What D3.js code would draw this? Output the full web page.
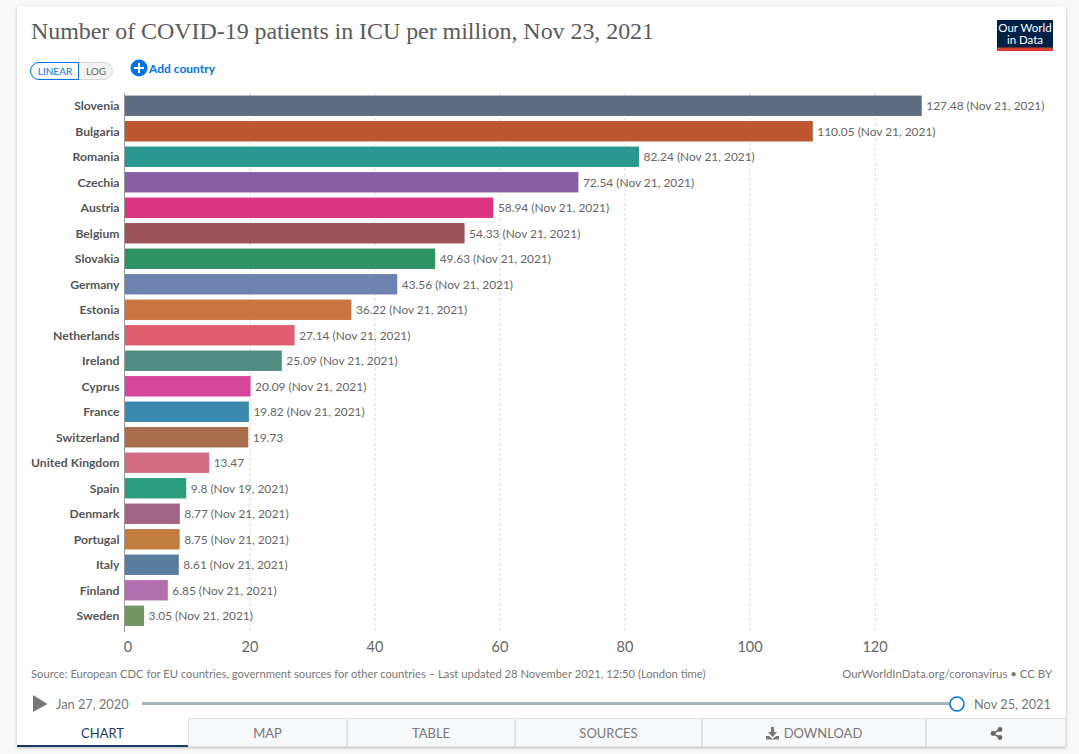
<!DOCTYPE html>
<html><head><meta charset="utf-8">
<script src="https://cdn.jsdelivr.net/npm/d3@7"></script>
<style>
html,body{margin:0;padding:0;background:#f8f8f8;overflow:hidden}
svg{display:block}
text{font-family:Lato,sans-serif}
</style></head><body>
<svg id="c" width="1079" height="754"></svg>
<script>
const countries=["Slovenia","Bulgaria","Romania","Czechia","Austria","Belgium","Slovakia","Germany","Estonia","Netherlands","Ireland","Cyprus","France","Switzerland","United Kingdom","Spain","Denmark","Portugal","Italy","Finland","Sweden"];
const values=[127.48,110.05,82.24,72.54,58.94,54.33,49.63,43.56,36.22,27.14,25.09,20.09,19.82,19.73,13.47,9.8,8.77,8.75,8.61,6.85,3.05];
const dates=["Nov 21, 2021","Nov 21, 2021","Nov 21, 2021","Nov 21, 2021","Nov 21, 2021","Nov 21, 2021","Nov 21, 2021","Nov 21, 2021","Nov 21, 2021","Nov 21, 2021","Nov 21, 2021","Nov 21, 2021","Nov 21, 2021","","","Nov 19, 2021","Nov 21, 2021","Nov 21, 2021","Nov 21, 2021","Nov 21, 2021","Nov 21, 2021"];
const colors=["#5b697f","#bd532d","#26968f","#855ca0","#d9307f","#9a5055","#2a9160","#6b80ad","#c9723a","#e05b6e","#4b8a7e","#d6409a","#3688ae","#a66a49","#cf6a7f","#289c7b","#a0617f","#c17a38","#557a9c","#b06bab","#6f9560"];
const ticks=[0,20,40,60,80,100,120];
const tabs=["CHART","MAP","TABLE","SOURCES","DOWNLOAD",""];
const tabEdges=[17,188,347,515,702,926,1066];

const svg=d3.select("#c");
const defs=svg.append("defs");
const f=defs.append("filter").attr("id","sh").attr("x","-3%").attr("y","-3%").attr("width","106%").attr("height","106%");
f.append("feDropShadow").attr("dx",0).attr("dy",1).attr("stdDeviation",1.5).attr("flood-color","#000").attr("flood-opacity",.25);

svg.append("rect").attr("x",17).attr("y",6).attr("width",1049).attr("height",741).attr("rx",2).attr("fill","#fff").attr("filter","url(#sh)");

const x=d3.scaleLinear().domain([0,120]).range([125,875]);
const y=d3.scaleBand().domain(countries).range([93.0,628.5]).paddingInner(.2).paddingOuter(.1);

// Header
svg.append("text").attr("x",31).attr("y",39).attr("font-size",24).attr("fill","#5b5b5b")
  .style("font-family","'Liberation Serif',serif").attr("textLength",623).attr("lengthAdjust","spacing")
  .text("Number of COVID-19 patients in ICU per million, Nov 23, 2021");

// Logo
svg.append("rect").attr("x",997).attr("y",20).attr("width",56).attr("height",31).attr("fill","#002147");
svg.append("rect").attr("x",997).attr("y",47.5).attr("width",56).attr("height",3.5).attr("fill","#d73c2e");
svg.append("text").attr("x",1025).attr("y",32).attr("text-anchor","middle").attr("font-size",11.5).attr("fill","#fff").text("Our World");
svg.append("text").attr("x",1025).attr("y",44).attr("text-anchor","middle").attr("font-size",11.5).attr("fill","#fff").text("in Data");

// Scale toggle
svg.append("rect").attr("x",30.5).attr("y",62.5).attr("width",82).attr("height",17).attr("rx",8.5).attr("fill","#f2f2f2").attr("stroke","#d5d7dc");
svg.append("path").attr("d","M78.5 62.5H39a8.5 8.5 0 0 0 0 17H78.5Z").attr("fill","#fff").attr("stroke","#0073e6").attr("stroke-width",1);
svg.append("text").attr("x",55).attr("y",74.5).attr("text-anchor","middle").attr("font-size",10).attr("fill","#0073e6").text("LINEAR");
svg.append("text").attr("x",96).attr("y",74.5).attr("text-anchor","middle").attr("font-size",10).attr("fill","#666").text("LOG");
svg.append("circle").attr("cx",139).attr("cy",68).attr("r",8.5).attr("fill","#0073e6");
svg.append("path").attr("d","M139 63V73M134 68H144").attr("stroke","#fff").attr("stroke-width",2);
svg.append("text").attr("x",149).attr("y",73).attr("font-size",12).attr("font-weight",700).attr("fill","#0073e6").text("Add country");

// Grid
svg.append("g").selectAll("line").data(ticks.slice(1)).join("line")
  .attr("x1",d=>x(d)).attr("x2",d=>x(d)).attr("y1",93).attr("y2",632)
  .attr("stroke","#ddd").attr("stroke-dasharray","3 2");

// Axis labels
svg.append("g").selectAll("text").data(ticks).join("text")
  .attr("x",d=>x(d)+(d===0?3:0)).attr("y",652).attr("text-anchor","middle").attr("font-size",14.5).attr("fill","#666").text(d=>d);

// Bars
const row=svg.append("g").selectAll("g").data(countries).join("g");
row.append("rect").attr("x",x(0)).attr("y",d=>y(d)).attr("height",y.bandwidth())
  .attr("width",(d,i)=>x(values[i])-x(0)).attr("fill",(d,i)=>colors[i]).attr("opacity",.98);
row.append("text").attr("x",119.5).attr("y",d=>y(d)+y.bandwidth()/2+4.3).attr("text-anchor","end")
  .attr("font-size",12.2).attr("font-weight",700).attr("fill","#555").text(d=>d);
row.append("text").attr("x",(d,i)=>x(values[i])+4.5).attr("y",d=>y(d)+y.bandwidth()/2+4.3)
  .attr("font-size",11.9).attr("fill","#666")
  .text((d,i)=>values[i]+(dates[i]?" ("+dates[i]+")":""));
svg.append("line").attr("x1",124.5).attr("x2",124.5).attr("y1",93).attr("y2",632).attr("stroke","#999");

// Footer
svg.append("text").attr("x",31).attr("y",678).attr("font-size",11.23).attr("fill","#777")
  .text("Source: European CDC for EU countries, government sources for other countries – Last updated 28 November 2021, 12:50 (London time)");
svg.append("text").attr("x",1052).attr("y",678).attr("text-anchor","end").attr("font-size",11.4).attr("fill","#777")
  .text("OurWorldInData.org/coronavirus • CC BY");

// Timeline
svg.append("path").attr("d","M33 695L47.5 704L33 712Z").attr("fill","#777");
svg.append("text").attr("x",56).attr("y",709).attr("font-size",12.8).attr("fill","#777").text("Jan 27, 2020");
svg.append("rect").attr("x",142).attr("y",702).attr("width",815).attr("height",3).attr("fill","#a9b2c0");
svg.append("circle").attr("cx",957).attr("cy",704).attr("r",7).attr("fill","#fff").attr("stroke","#0073e6").attr("stroke-width",1.5);
svg.append("text").attr("x",974).attr("y",709).attr("font-size",12.8).attr("fill","#777").text("Nov 25, 2021");

// Tabs
const tg=svg.append("g");
tabs.forEach((t,i)=>{
  const a=tabEdges[i],b=tabEdges[i+1];
  tg.append("rect").attr("x",a+.5).attr("y",718.5).attr("width",b-a-1).attr("height",28)
    .attr("fill",i===0?"#fff":"#f7f8fa").attr("stroke",i===0?"none":"#e0e2e6");
  tg.append("text").attr("x",(a+b)/2+(t==="DOWNLOAD"?9:0)).attr("y",738).attr("text-anchor","middle").attr("font-size",13)
    .attr("fill",i===0?"#1d3d63":"#777").text(t);
});
tg.append("rect").attr("x",17).attr("y",745).attr("width",171).attr("height",2).attr("fill","#1d3d63");
tg.append("path").attr("d","M771 727h3v5h3l-4.5 5-4.5-5h3ZM766 736h3l3.5 3 3.5-3h3v3.5h-13Z").attr("fill","#777");
tg.append("path").attr("d","M1000 729.5L993 733.5L1000 737.5").attr("fill","none").attr("stroke","#666").attr("stroke-width",1.5);
[[1000,729.5],[993,733.5],[1000,737.5]].forEach(p=>tg.append("circle").attr("cx",p[0]).attr("cy",p[1]).attr("r",2.4).attr("fill","#666"));
</script>
</body></html>
